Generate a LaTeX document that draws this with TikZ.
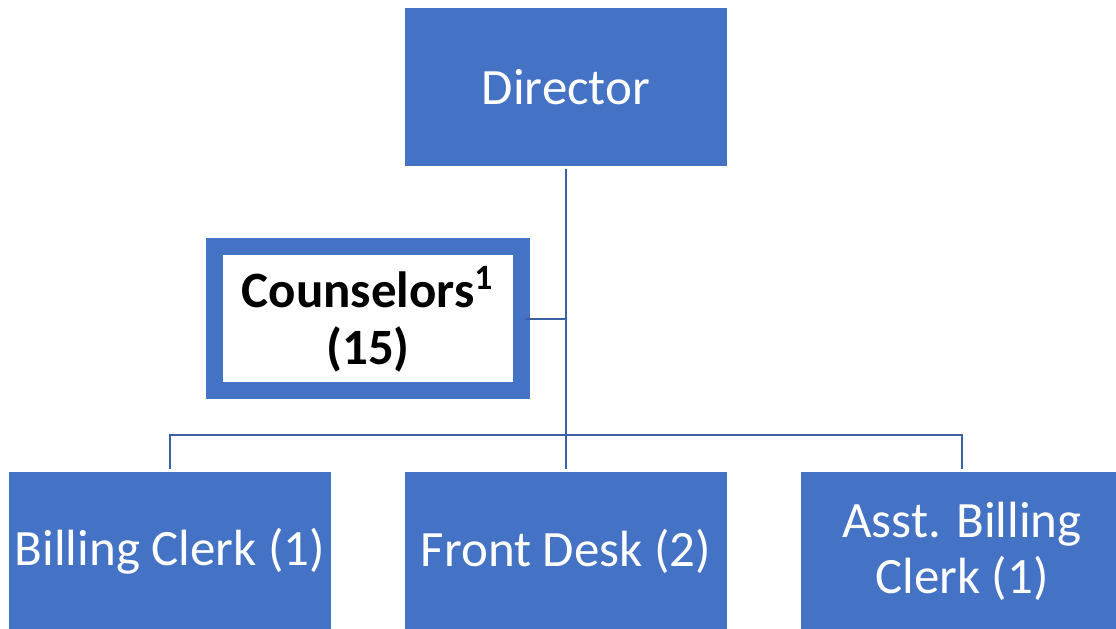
\documentclass[tikz,border=0pt]{standalone}
\usepackage{fontspec}
\setmainfont{Carlito}
\usepackage{tikz}
\usetikzlibrary{positioning,calc}
\definecolor{boxblue}{RGB}{68,114,196}
\definecolor{lineblue}{RGB}{60,96,166}
\tikzset{
    box font/.style={font=\fontsize{14.5}{16}\selectfont},
    staff box/.style={box font,rectangle,fill=boxblue,text=white,minimum width=3.22cm,minimum height=1.58cm,align=center,inner sep=0pt,outer sep=0.03cm},
    team box/.style={box font,rectangle,fill=white,draw=boxblue,line width=0.17cm,text=black,minimum width=3.07cm,minimum height=1.44cm,align=center,inner sep=0pt,outer sep=0.04cm},
    link/.style={draw=lineblue,line width=0.6pt},
}

\begin{document}
\begin{tikzpicture}
        \useasboundingbox (0,0) rectangle (11.16,6.29);
        \clip (0,0) rectangle (11.16,6.29);
        \node[staff box] (director) at (5.66,5.42) {Director};
        \node[team box] (counselors) at (3.68,3.10) {\textbf{Counselors\textsuperscript{1}}\\\textbf{(15)}};
        \node[staff box] (clerk) at (1.70,0.78) {Billing Clerk (1)};
        \node[staff box] (desk) at (5.66,0.78) {Front Desk (2)};
        \node[staff box] (asst) at (9.62,0.78) {Asst. Billing\\Clerk (1)};
        \coordinate (bar) at (5.66,1.94);
        
        \draw[link] (director.south) -- (desk.north);
        \draw[link] (counselors.east) -- (counselors.east -| director.south);
        \draw[link] (clerk.north) |- (bar) -| (asst.north);
    \end{tikzpicture}
\end{document}
